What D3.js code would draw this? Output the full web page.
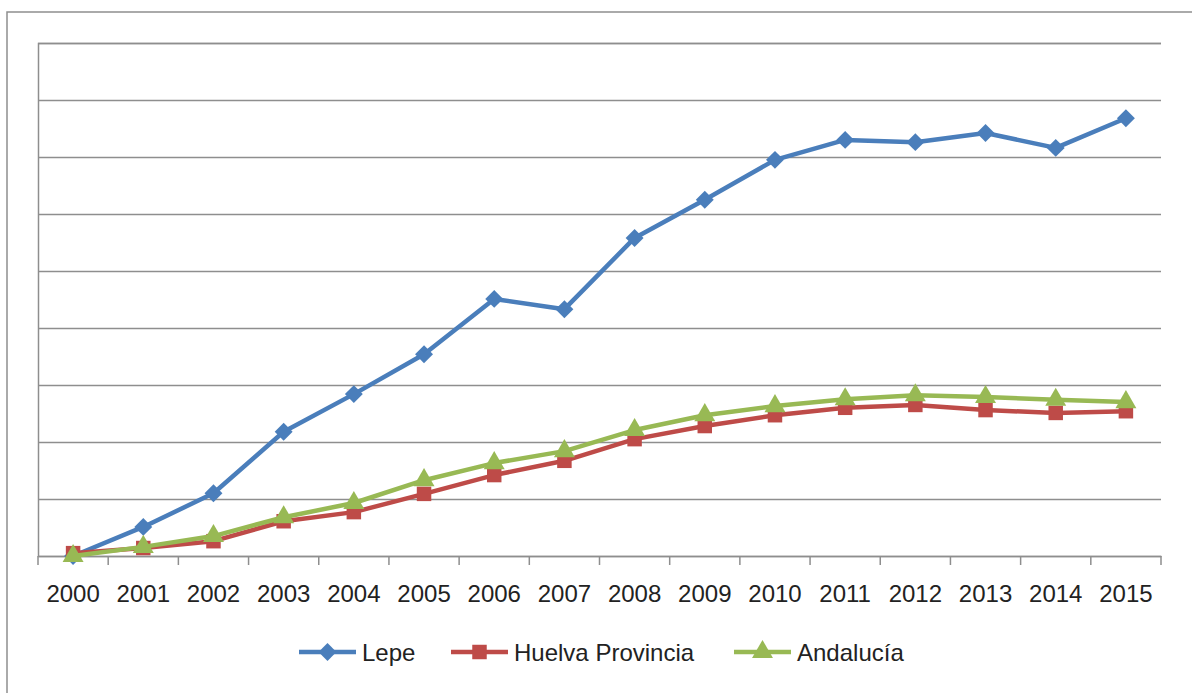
<!DOCTYPE html>
<html>
<head>
<meta charset="utf-8">
<script src="https://cdn.jsdelivr.net/npm/d3@7"></script>
<style>
  body { margin: 0; background: #fff; }
  svg { display: block; font-family: "Liberation Sans", Arial, sans-serif; }
</style>
</head>
<body>
<svg width="1192" height="693"></svg>
<script>
"use strict";

const years = ["2000", "2001", "2002", "2003", "2004", "2005", "2006", "2007",
               "2008", "2009", "2010", "2011", "2012", "2013", "2014", "2015"];
const lepe = [0, 0.51, 1.1, 2.18, 2.84, 3.54, 4.51, 4.33, 5.58, 6.25, 6.95, 7.3, 7.26, 7.42, 7.16, 7.68];
const huelva = [0.05, 0.14, 0.26, 0.61, 0.77, 1.09, 1.42, 1.67, 2.05, 2.28, 2.47, 2.6, 2.65, 2.56, 2.51, 2.54];
const andalucia = [0, 0.16, 0.35, 0.68, 0.93, 1.33, 1.63, 1.84, 2.21, 2.47, 2.63, 2.75, 2.82, 2.79, 2.74, 2.7];
const gridTicks = [1, 2, 3, 4, 5, 6, 7, 8, 9];

const series = [
    {name: "Lepe", values: lepe, color: "#4A7EBB", symbol: "diamond"},
    {name: "Huelva Provincia", values: huelva, color: "#BE4B48", symbol: "square"},
    {name: "Andalucía", values: andalucia, color: "#98B954", symbol: "triangle"}
];

const svg = d3.select("svg");
const Padding = {TOP: 43, LEFT: 38, RIGHT: 31, BOTTOM: 137};
const W = +svg.attr("width"), H = +svg.attr("height");
const gridColor = "#8E8E8E";

// outer chart frame (runs off the right and bottom of the picture)
svg.append("rect")
    .attr("x", 7).attr("y", 12)
    .attr("width", W + 20).attr("height", H + 20)
    .attr("fill", "none")
    .attr("stroke", gridColor)
    .attr("stroke-width", 1.5);

const x = d3.scaleBand()
    .domain(years)
    .range([Padding.LEFT, W - Padding.RIGHT])
    .padding(0);

const y = d3.scaleLinear()
    .domain([0, 9])
    .range([H - Padding.BOTTOM, Padding.TOP]);

// horizontal gridlines
svg.append("g")
    .attr("transform", `translate(${Padding.LEFT}, 0)`)
    .call(d3.axisLeft(y).tickValues(gridTicks).tickSize(-(W - Padding.RIGHT - Padding.LEFT)).tickFormat(""))
    .call(g => g.select(".domain").attr("stroke", gridColor).attr("stroke-width", 1.5))
    .call(g => g.selectAll(".tick line").attr("stroke", gridColor).attr("stroke-width", 1.5));

// x axis: labels centred in the bands, ticks on band boundaries
const xAxis = svg.append("g")
    .attr("transform", `translate(0, ${y(0)})`)
    .call(d3.axisBottom(x).tickSize(0).tickPadding(29))
    .call(g => g.select(".domain").attr("stroke", gridColor).attr("stroke-width", 1.5))
    .call(g => g.selectAll("text")
        .attr("font-size", 24)
        .attr("font-family", "Liberation Sans, Arial, sans-serif")
        .attr("fill", "#222"));

const boundaries = years.map(d => x(d)).concat([x.range()[1]]);
xAxis.selectAll(".bound")
    .data(boundaries)
    .enter()
    .append("line")
    .attr("class", "bound")
    .attr("x1", d => d).attr("x2", d => d)
    .attr("y1", 0).attr("y2", 9)
    .attr("stroke", gridColor)
    .attr("stroke-width", 1.5);

const symbols = {
    diamond: d3.symbol().type(d3.symbolSquare).size(160),
    square: d3.symbol().type(d3.symbolSquare).size(210),
    triangle: d3.symbol().type(d3.symbolTriangle).size(190)
};
const rot = s => s.symbol === "diamond" ? " rotate(45)" : "";

const line = d3.line()
    .x((d, i) => x(years[i]) + x.bandwidth() / 2)
    .y(d => y(d));

series.forEach(s => {
    svg.append("path")
        .datum(s.values)
        .attr("fill", "none")
        .attr("stroke", s.color)
        .attr("stroke-width", 4.5)
        .attr("stroke-linejoin", "round")
        .attr("d", line);

    svg.append("g")
        .selectAll("path")
        .data(s.values)
        .enter()
        .append("path")
        .attr("d", symbols[s.symbol])
        .attr("fill", s.color)
        .attr("transform", (d, i) => `translate(${x(years[i]) + x.bandwidth() / 2}, ${y(d)})${rot(s)}`);
});

// legend
const legendStarts = [299, 451, 734];
const legend = svg.append("g").attr("transform", "translate(0, 652)");
series.forEach((s, i) => {
    const g = legend.append("g").attr("transform", `translate(${legendStarts[i]}, 0)`);
    g.append("line")
        .attr("x1", 0).attr("x2", 57)
        .attr("stroke", s.color)
        .attr("stroke-width", 4.5);
    g.append("path")
        .attr("d", symbols[s.symbol])
        .attr("fill", s.color)
        .attr("transform", `translate(28.5, 0)${rot(s)}`);
    g.append("text")
        .attr("x", 63)
        .attr("y", 9)
        .attr("font-size", 24)
        .attr("fill", "#222")
        .text(s.name);
});
</script>
</body>
</html>
